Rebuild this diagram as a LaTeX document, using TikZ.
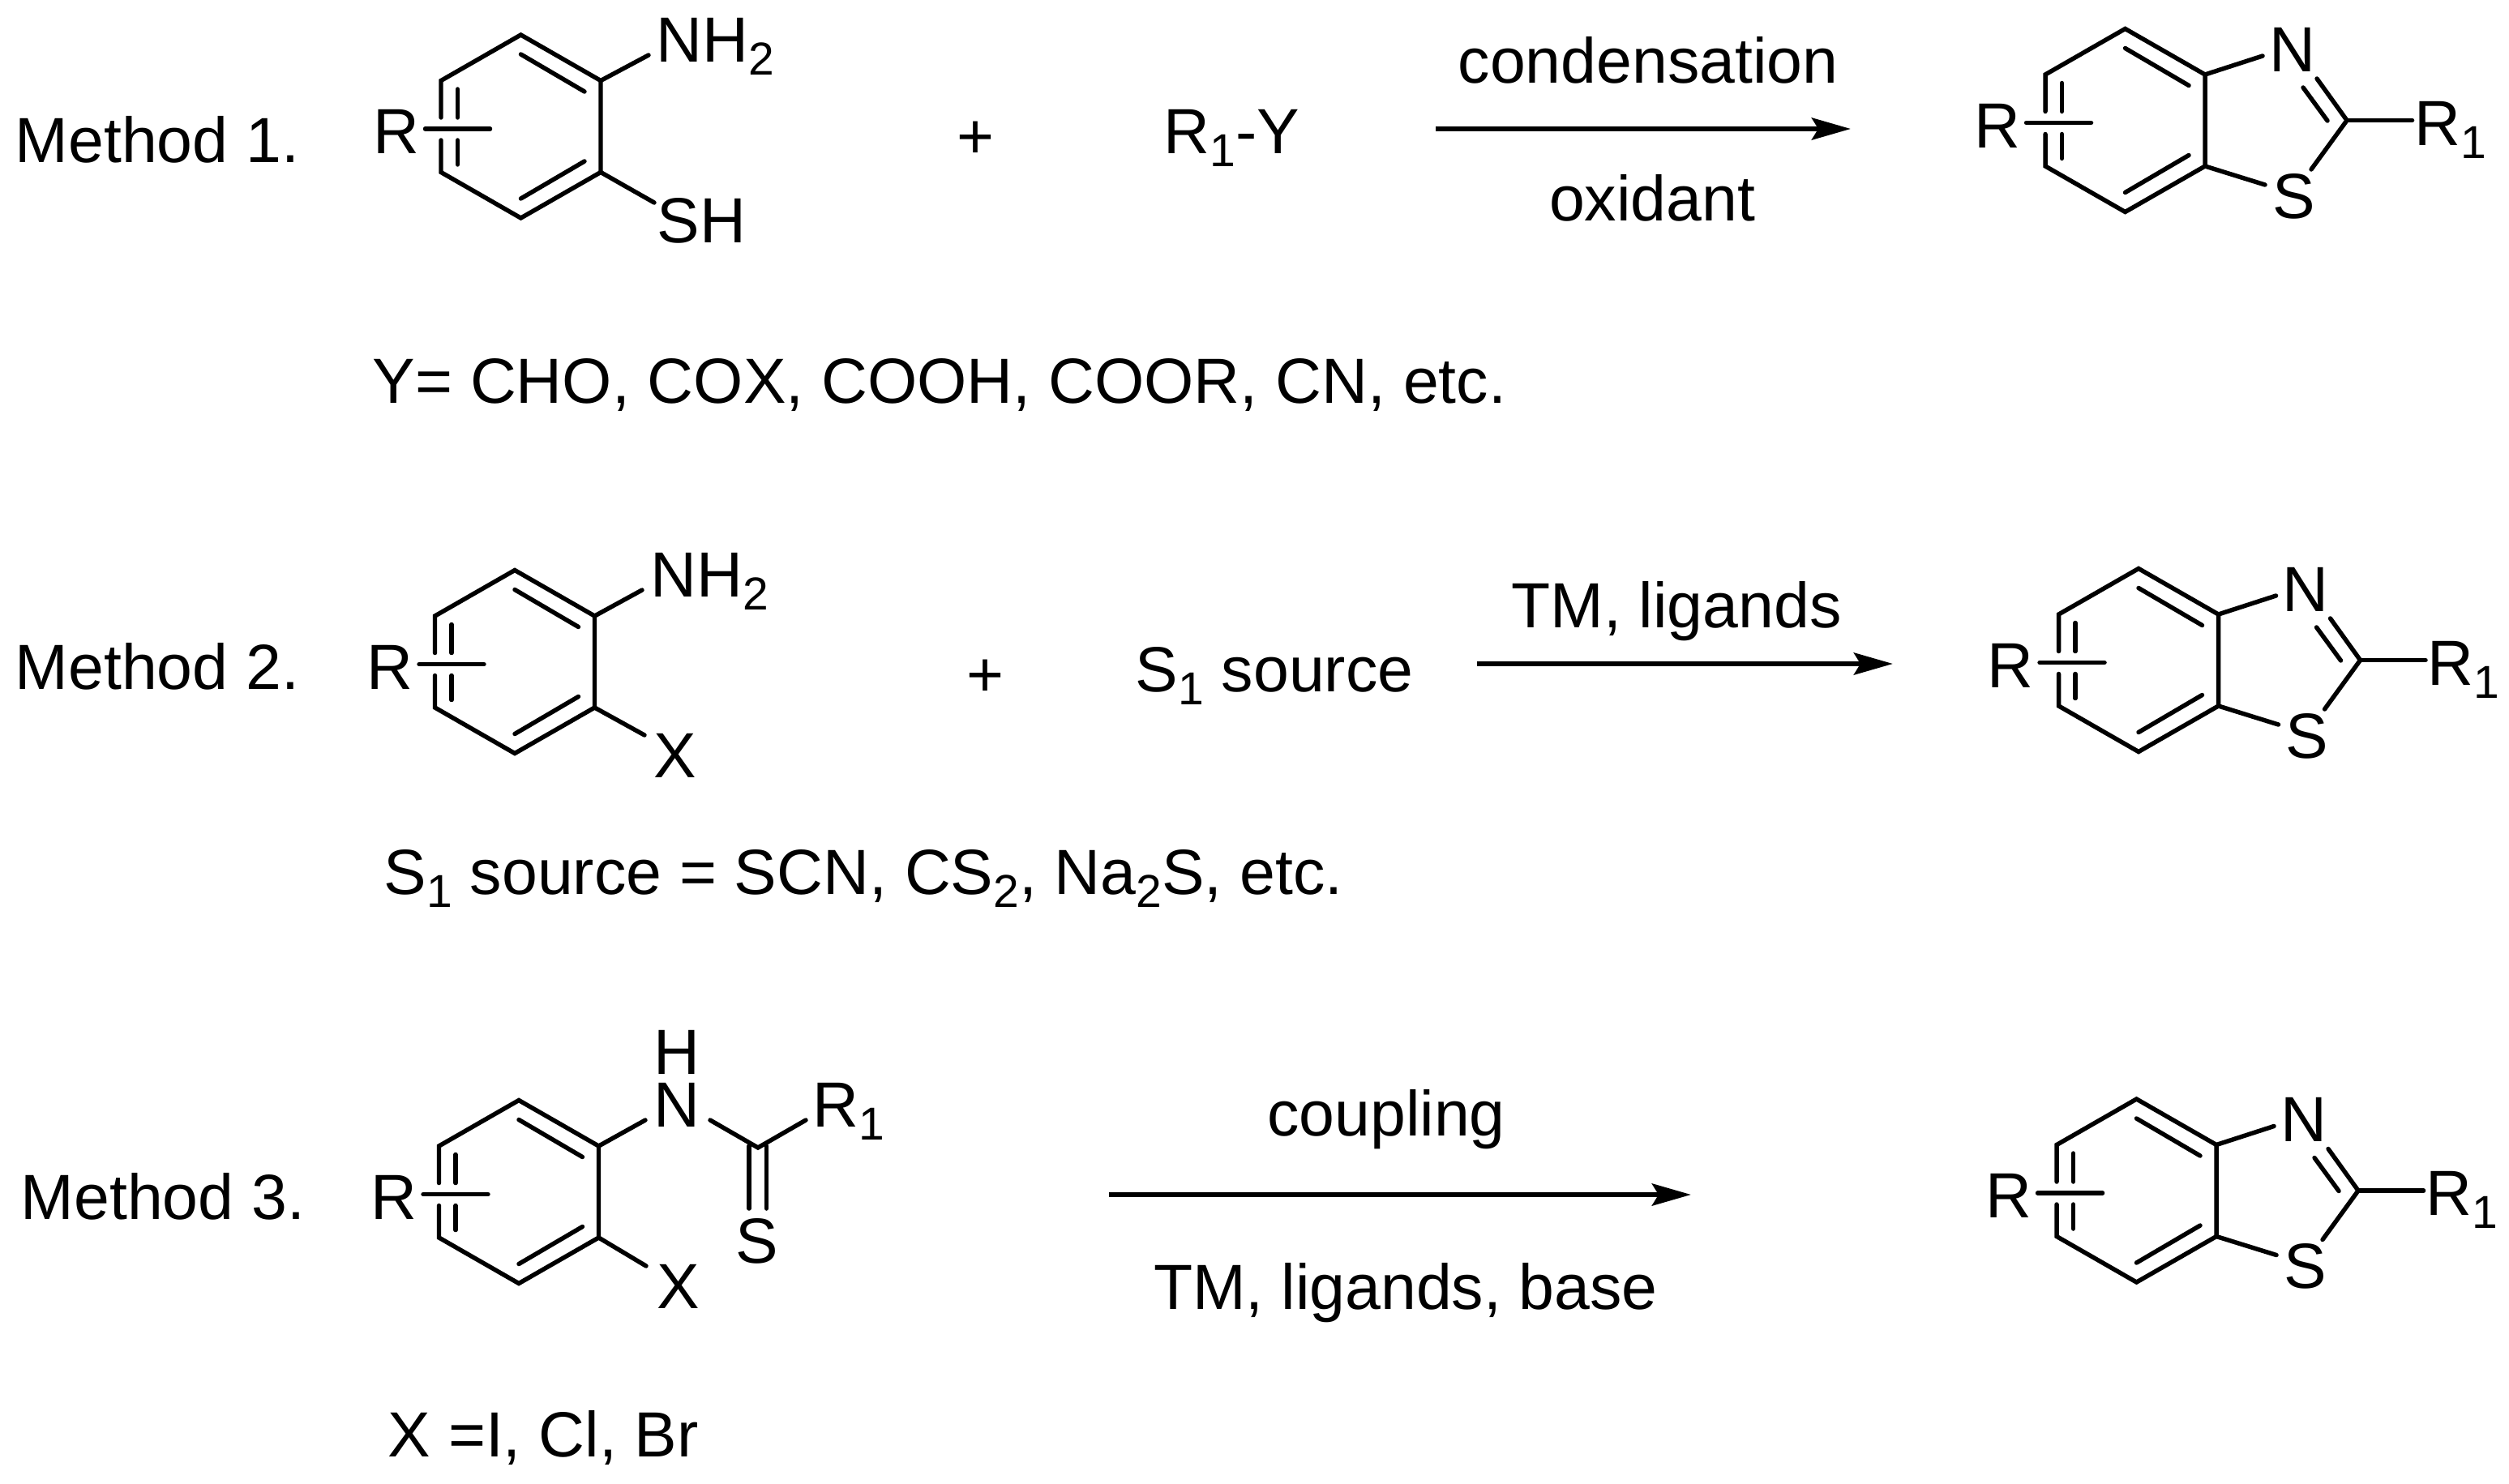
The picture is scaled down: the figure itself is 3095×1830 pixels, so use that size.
\documentclass[tikz,border=0pt]{standalone}
\usepackage{fontspec}
\setmainfont{Liberation Sans}
\usetikzlibrary{arrows.meta}
\newcommand{\sbs}[1]{\raisebox{-0.16cm}{\fontsize{16.2}{16}\selectfont #1}}

\begin{document}
\begin{tikzpicture}[x=0.01cm,y=-0.01cm,
  txt/.style={inner sep=0pt,anchor=base west,font=\fontsize{22.4}{24}\selectfont},
  reag/.style={inner sep=0pt,anchor=base,font=\fontsize{22.4}{24}\selectfont},
  bond/.style={line width=1.55pt,line cap=round},
  rxnarrow/.style={line width=1.8pt,-{Stealth[length=0.48cm,width=0.27cm,inset=0.08cm]}}]

\useasboundingbox (0,0) rectangle (3095,1830);

% Ring with its R group: name, centre x, centre y, shift of the R group
\def\benzring#1#2#3#4{
  \begin{scope}[shift={(#2,#3)}]
    \coordinate (#1t) at (0,-113);
    \coordinate (#1tr) at (98.5,-56.5);
    \coordinate (#1br) at (98.5,56.5);
    \coordinate (#1b) at (0,113);
    \coordinate (#1bl) at (-98.5,56.5);
    \coordinate (#1tl) at (-98.5,-56.5);
    \coordinate (#1gu) at (-98.5,-11);
    \coordinate (#1gd) at (-98.5,17);
    \draw[bond] (#1gu) -- (#1tl) -- (#1t) -- (#1tr) -- (#1br) -- (#1b) -- (#1bl) -- (#1gd);
    % inner lines of the double bonds
    \draw[bond] (0,-89) -- (78.5,-43);
    \draw[bond] (0,89) -- (78.5,43);
    \draw[bond] (-78,-46) -- (-78,-11);
    \draw[bond] (-78,17) -- (-78,47);
    % R group
    \node[txt] (#1R) at (-183+#4,33.5) {R};
    \coordinate (#1Ra) at (-118+#4,3);
    \coordinate (#1Rb) at (-38+#4,3);
    \draw[bond] (#1Ra) -- (#1Rb);
  \end{scope}
}

% --- Method labels ---
\foreach \n/\x/\y in {1/18/200,2/18/850,3/25/1504} {
  \node[txt] (method\n) at (\x,\y) {Method \n.};
}

% --- Method 1 ---
\benzring{a}{642.5}{156}{0}
\node[txt] (aNH) at (809,76) {NH\sbs{2}};
\node[txt] (aSH) at (810,299) {SH};
\coordinate (aNHe) at (800,68);
\coordinate (aSHe) at (807,250);
\draw[bond] (atr) -- (aNHe);
\draw[bond] (abr) -- (aSHe);
\node[reag] (aplus) at (1203,195) {+};
\node[txt] (aY) at (1435,189) {R\sbs{1}-Y};
\coordinate (arra) at (1771,159);
\coordinate (arrb) at (2283,159);
\draw[rxnarrow] (arra) -- (arrb);
\node[reag] (acond) at (2033,102) {condensation};
\node[reag] (aox) at (2038,272) {oxidant};
\node[txt] (anote) at (459,497) {Y= CHO, COX, COOH, COOR, CN, etc.};

% --- Method 2 ---
\benzring{b}{635}{816.5}{0}
\node[txt] (bNH) at (802,736) {NH\sbs{2}};
\node[txt] (bX) at (806,959) {X};
\coordinate (bNHe) at (792,728);
\coordinate (bXe) at (795,907);
\draw[bond] (btr) -- (bNHe);
\draw[bond] (bbr) -- (bXe);
\node[reag] (bplus) at (1215,859) {+};
\node[txt] (bS) at (1400,853) {S\sbs{1} source};
\coordinate (brra) at (1822,819);
\coordinate (brrb) at (2335,819);
\draw[rxnarrow] (brra) -- (brrb);
\node[reag] (bTM) at (2068,774) {TM, ligands};
\node[txt] (bnote) at (473,1103) {S\sbs{1} source = SCN, CS\sbs{2}, Na\sbs{2}S, etc.};

% --- Method 3 ---
\benzring{c}{640}{1470.5}{0}
\node[txt] (cH) at (806,1325) {H};
\node[txt] (cN) at (806,1390) {N};
\node[txt] (cR) at (1002,1390) {R\sbs{1}};
\node[txt] (cS) at (907,1558) {S};
\node[txt] (cX) at (810,1614) {X};
\coordinate (cNl) at (796,1382);
\coordinate (cNr) at (876,1382);
\coordinate (cC) at (935,1416);
\coordinate (cRe) at (994,1382);
\coordinate (cXe) at (797,1562);
\draw[bond] (ctr) -- (cNl);
\draw[bond] (cNr) -- (cC) -- (cRe);
\draw[bond] (cbr) -- (cXe);
\draw[bond] (924,1414) -- (924,1491);
\draw[bond] (945.5,1414) -- (945.5,1491);
\coordinate (crra) at (1368,1474);
\coordinate (crrb) at (2086,1474);
\draw[rxnarrow] (crra) -- (crrb);
\node[reag] (ccoup) at (1710,1401) {coupling};
\node[reag] (cTM) at (1734,1615) {TM, ligands, base};
\node[txt] (cnote) at (478,1797) {X =I, Cl, Br};

% --- Products ---
\foreach \p/\cx/\cy in {p/2621.5/148.5,q/2638/814.5,r/2635.5/1469} {
  \benzring{\p}{\cx}{\cy}{-4}
  \begin{scope}[shift={(\cx,\cy)}]
    \node[txt] (\p N) at (177,-60.5) {N};
    \node[txt] (\p S) at (181,120.5) {S};
    \node[txt] (\p Rr) at (356,30.5) {R\sbs{1}};
    \coordinate (\p C) at (273.5,0);
    \coordinate (\p Ne) at (169.5,-79.5);
    \coordinate (\p Se) at (172.5,79.5);
    \coordinate (\p CS) at (229.5,60.5);
    \coordinate (\p CN) at (236.5,-51.5);
    \coordinate (\p CR) at (354,0);
    \draw[bond] (\p tr) -- (\p Ne);
    \draw[bond] (\p br) -- (\p Se);
    \draw[bond] (\p CN) -- (\p C) -- (\p CS);
    \draw[bond] (\p C) -- (\p CR);
    \draw[bond] (249.5,0.5) -- (219.5,-40.5);
  \end{scope}
}

\end{tikzpicture}
\end{document}
